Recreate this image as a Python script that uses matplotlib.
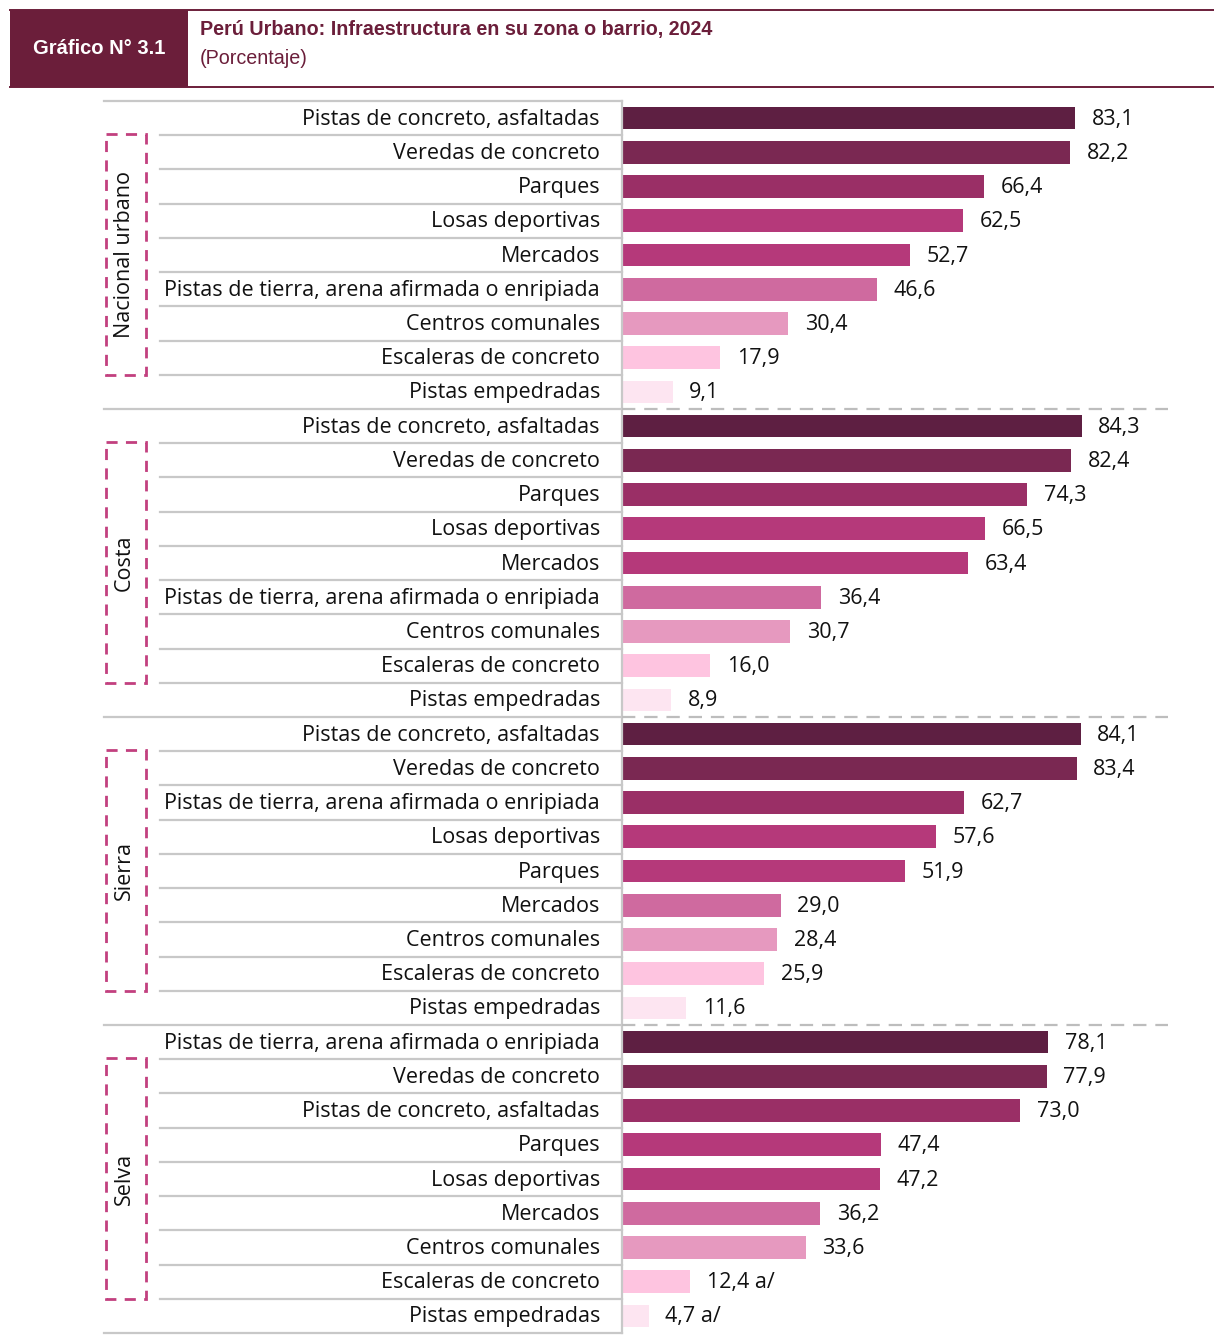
import matplotlib
matplotlib.use("Agg")
import matplotlib.pyplot as plt
import matplotlib.transforms as mtransforms
from matplotlib.patches import Rectangle

# ---------------- data ----------------
groups = ["Nacional urbano", "Costa", "Sierra", "Selva"]

nacional_labels = ["Pistas de concreto, asfaltadas", "Veredas de concreto", "Parques",
                   "Losas deportivas", "Mercados", "Pistas de tierra, arena afirmada o enripiada",
                   "Centros comunales", "Escaleras de concreto", "Pistas empedradas"]
nacional_values = [83.1, 82.2, 66.4, 62.5, 52.7, 46.6, 30.4, 17.9, 9.1]

costa_labels = ["Pistas de concreto, asfaltadas", "Veredas de concreto", "Parques",
                "Losas deportivas", "Mercados", "Pistas de tierra, arena afirmada o enripiada",
                "Centros comunales", "Escaleras de concreto", "Pistas empedradas"]
costa_values = [84.3, 82.4, 74.3, 66.5, 63.4, 36.4, 30.7, 16.0, 8.9]

sierra_labels = ["Pistas de concreto, asfaltadas", "Veredas de concreto",
                 "Pistas de tierra, arena afirmada o enripiada", "Losas deportivas", "Parques",
                 "Mercados", "Centros comunales", "Escaleras de concreto", "Pistas empedradas"]
sierra_values = [84.1, 83.4, 62.7, 57.6, 51.9, 29.0, 28.4, 25.9, 11.6]

selva_labels = ["Pistas de tierra, arena afirmada o enripiada", "Veredas de concreto",
                "Pistas de concreto, asfaltadas", "Parques", "Losas deportivas", "Mercados",
                "Centros comunales", "Escaleras de concreto", "Pistas empedradas"]
selva_values = [78.1, 77.9, 73.0, 47.4, 47.2, 36.2, 33.6, 12.4, 4.7]
selva_notes = ["", "", "", "", "", "", "", " a/", " a/"]

title = "Perú Urbano: Infraestructura en su zona o barrio, 2024"
subtitle = "(Porcentaje)"
badge = "Gráfico N° 3.1"

rank_colors = ["#5E1F42", "#7A2852", "#9A2F66", "#B5397A", "#B5397A",
               "#CF6A9F", "#E699BF", "#FEC4E0", "#FDE5F1"]

all_labels = [nacional_labels, costa_labels, sierra_labels, selva_labels]
all_values = [nacional_values, costa_values, sierra_values, selva_values]
all_notes = [[""] * 9, [""] * 9, [""] * 9, selva_notes]

# ---------------- figure ----------------
W, H = 1214, 1338
DPI = 100
fig = plt.figure(figsize=(W / DPI, H / DPI), dpi=DPI)
FONT = ["Open Sans", "DejaVu Sans"]
NARROW = ["Liberation Sans Narrow", "Liberation Sans", "DejaVu Sans"]
FS = 15.5

def fx(px):
    return px / W

def fy(py):
    return 1 - py / H

ax_left, ax_right = 623, 1167
ax_top, ax_bot = 101, 1333
ax = fig.add_axes([fx(ax_left), fy(ax_bot), fx(ax_right - ax_left), (ax_bot - ax_top) / H])
ax.set_xlim(0, 100)
n_rows = sum(len(v) for v in all_values)
ax.set_ylim(n_rows - 0.5, -0.5)
ax.axis("off")

trans = mtransforms.blended_transform_factory(fig.transFigure, ax.transData)

row = 0
group_starts = []
for g, (labels, values, notes) in enumerate(zip(all_labels, all_values, all_notes)):
    group_starts.append(row)
    ys = list(range(row, row + len(values)))
    ax.barh(ys, values, height=0.66, color=rank_colors[:len(values)], zorder=3)
    for y, lab, v, note in zip(ys, labels, values, notes):
        fig.text(fx(600), y + 0.03, lab, transform=trans, ha="right", va="center",
                 fontsize=FS, family=FONT, color="#111111")
        ax.annotate(f"{v:.1f}".replace(".", ",") + note, xy=(v, y + 0.03), xytext=(12, 0),
                    textcoords="offset points", ha="left", va="center",
                    fontsize=FS, family=FONT, color="#111111")
    row += len(values)

grey = "#C8C8C8"
# row separators in label area
for i in range(n_rows + 1):
    yb = i - 0.5
    is_group = (i in group_starts) or i == n_rows
    x0 = fx(104) if is_group else fx(160)
    fig.add_artist(plt.Line2D([x0, fx(622)], [yb, yb], transform=trans, color=grey, lw=1.6))
# vertical separator
fig.add_artist(plt.Line2D([fx(622), fx(622)], [-0.5, n_rows - 0.5], transform=trans, color=grey, lw=1.6))
# dashed group separators in bar area
for s in group_starts[1:]:
    fig.add_artist(plt.Line2D([fx(622), fx(1168)], [s - 0.5, s - 0.5], transform=trans,
                              color="#BDBDBD", lw=1.6, dashes=(6, 4)))

# dashed group boxes and labels
for g, s in enumerate(group_starts):
    n = len(all_values[g])
    y0 = s + 0.45
    y1 = s + n - 1.5
    rect = Rectangle((fx(106), y0), fx(146) - fx(106), y1 - y0, transform=trans,
                     fill=False, edgecolor="#C2407F", lw=2, linestyle=(0, (4, 3)))
    fig.add_artist(rect)
    fig.text(fx(124), s + (n - 1) / 2, groups[g], transform=trans, rotation=90,
             ha="center", va="center", fontsize=FS, family=FONT, color="#111111")

# ---------------- header ----------------
hdr = "#6B1E3A"
fig.add_artist(Rectangle((fx(10), fy(87)), fx(188) - fx(10), (87 - 10) / H,
                         transform=fig.transFigure, color=hdr, lw=0))
fig.add_artist(plt.Line2D([fx(10), 1], [fy(9.5), fy(9.5)], transform=fig.transFigure, color=hdr, lw=1.4))
fig.add_artist(plt.Line2D([fx(10), 1], [fy(87), fy(87)], transform=fig.transFigure, color=hdr, lw=1.4))
fig.text(fx(99), fy(48), badge, ha="center", va="center", color="white",
         fontsize=14.5, fontweight="bold", family=NARROW)
fig.text(fx(200), fy(29), title, ha="left", va="center", color=hdr,
         fontsize=14.2, fontweight="bold", family=NARROW)
fig.text(fx(200), fy(59), subtitle, ha="left", va="center", color=hdr,
         fontsize=14.2, family=NARROW)

fig.savefig("out.png", dpi=DPI)
